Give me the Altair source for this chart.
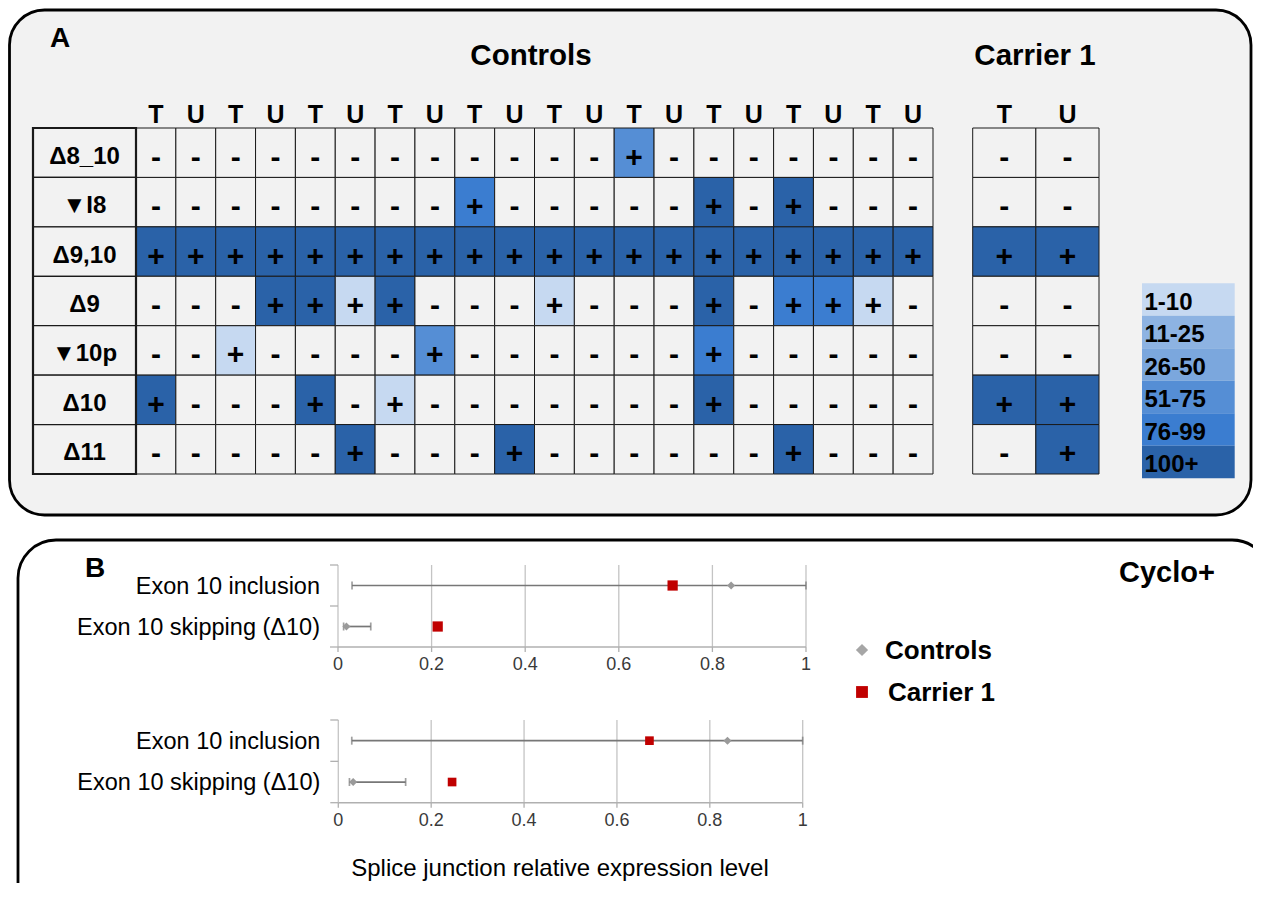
import altair as alt
import pandas as pd

# ---------------- Panel A data ----------------
row_labels = ["Δ8_10", "▼I8", "Δ9,10", "Δ9", "▼10p", "Δ10", "Δ11"]
control_headers = ["T", "U", "T", "U", "T", "U", "T", "U", "T", "U",
                   "T", "U", "T", "U", "T", "U", "T", "U", "T", "U"]
carrier_headers = ["T", "U"]
bin_labels = ["1-10", "11-25", "26-50", "51-75", "76-99", "100+"]
bin_colors = ["#c6d9f1", "#8db3e2", "#7ba7dd", "#558ed5", "#3b7dd0", "#2a62a8"]
empty_color = "#f2f2f2"

# expression level class per cell: 0 = not detected, 1..6 = bins above
control_levels = [
    [0, 0, 0, 0, 0, 0, 0, 0, 0, 0, 0, 0, 4, 0, 0, 0, 0, 0, 0, 0],
    [0, 0, 0, 0, 0, 0, 0, 0, 5, 0, 0, 0, 0, 0, 6, 0, 6, 0, 0, 0],
    [6, 6, 6, 6, 6, 6, 6, 6, 6, 6, 6, 6, 6, 6, 6, 6, 6, 6, 6, 6],
    [0, 0, 0, 6, 6, 1, 6, 0, 0, 0, 1, 0, 0, 0, 6, 0, 5, 5, 1, 0],
    [0, 0, 1, 0, 0, 0, 0, 4, 0, 0, 0, 0, 0, 0, 5, 0, 0, 0, 0, 0],
    [6, 0, 0, 0, 6, 0, 1, 0, 0, 0, 0, 0, 0, 0, 6, 0, 0, 0, 0, 0],
    [0, 0, 0, 0, 0, 6, 0, 0, 0, 6, 0, 0, 0, 0, 0, 0, 6, 0, 0, 0],
]
carrier_levels = [[0, 0], [0, 0], [6, 6], [0, 0], [0, 0], [6, 6], [0, 6]]

# ---------------- Panel B data ----------------
junctions = ["Exon 10 inclusion", "Exon 10 skipping (Δ10)"]
top_ctrl_point = [0.84, 0.018]
top_ctrl_min = [0.03, 0.012]
top_ctrl_max = [1.0, 0.07]
top_carrier = [0.715, 0.213]
bot_ctrl_point = [0.838, 0.032]
bot_ctrl_min = [0.029, 0.024]
bot_ctrl_max = [1.0, 0.145]
bot_carrier = [0.67, 0.245]
x_ticks = [0.0, 0.2, 0.4, 0.6, 0.8, 1.0]
x_tick_labels = ["0", "0.2", "0.4", "0.6", "0.8", "1"]
series_names = ["Controls", "Carrier 1"]

F = "Liberation Sans, Arial, Helvetica, sans-serif"
DUMMY = pd.DataFrame({"k": [0]})


def label(text, x, y, size, weight="bold", align="center", color="black"):
    return alt.Chart(DUMMY).mark_text(
        text=text, font=F, fontSize=size, fontWeight=weight, align=align,
        baseline="middle", color=color
    ).encode(x=alt.value(x), y=alt.value(y))


def frame(x1, x2, y1, y2, fill, radius):
    return alt.Chart(DUMMY).mark_rect(
        fill=fill, stroke="black", strokeWidth=2.8, cornerRadius=radius
    ).encode(x=alt.value(x1), x2=alt.value(x2), y=alt.value(y1), y2=alt.value(y2))


layers = []
layers.append(frame(1.5, 1243, 2, 507, "#f2f2f2", 35))
layers.append(frame(10, 1262, 532, 920, "white", 38))

# ---------------- heatmaps ----------------
def heat_df(levels, headers):
    recs = []
    for r, lab in enumerate(row_labels):
        for c, h in enumerate(headers):
            lv = levels[r][c]
            recs.append({"row": lab, "col": c, "hdr": h, "level": lv,
                         "sign": "+" if lv > 0 else "-"})
    return pd.DataFrame(recs)


ROWY = alt.Scale(domain=row_labels, range=[120, 466], paddingInner=0, paddingOuter=0)
color_scale = alt.Scale(domain=list(range(7)), range=[empty_color] + bin_colors)


def heatmap(levels, headers, xr):
    df = heat_df(levels, headers)
    xs = alt.Scale(domain=list(range(len(headers))), range=xr, paddingInner=0, paddingOuter=0)
    rect = alt.Chart(df).mark_rect(stroke="#1a1a1a", strokeWidth=1).encode(
        x=alt.X("col:O", scale=xs, axis=None),
        y=alt.Y("row:N", scale=ROWY, axis=None),
        color=alt.Color("level:O", scale=color_scale, legend=None),
    )
    txt = alt.Chart(df).mark_text(font=F, fontSize=30, fontWeight="bold",
                                  baseline="middle", dy=5, color="black").encode(
        x=alt.X("col:O", scale=xs, axis=None),
        y=alt.Y("row:N", scale=ROWY, axis=None),
        text="sign:N",
    )
    hdf = pd.DataFrame({"col": list(range(len(headers))), "hdr": headers})
    hdr = alt.Chart(hdf).mark_text(font=F, fontSize=25, fontWeight="bold",
                                   baseline="middle", color="black").encode(
        x=alt.X("col:O", scale=xs, axis=None),
        y=alt.value(106.5),
        text="hdr:N",
    )
    return [rect, txt, hdr]


layers += heatmap(control_levels, control_headers, [128, 925])
layers += heatmap(carrier_levels, carrier_headers, [964.7, 1091])

# row label box
rl = pd.DataFrame({"row": row_labels})
layers.append(alt.Chart(rl).mark_rect(fill=empty_color, stroke="#1a1a1a", strokeWidth=1.2).encode(
    x=alt.value(25), x2=alt.value(128),
    y=alt.Y("row:N", scale=ROWY, axis=None),
))
layers.append(alt.Chart(DUMMY).mark_rect(fill=None, stroke="#1a1a1a", strokeWidth=2.2).encode(
    x=alt.value(25), x2=alt.value(128), y=alt.value(120), y2=alt.value(466)))
layers.append(alt.Chart(rl).mark_text(font=F, fontSize=24, fontWeight="bold",
                                      baseline="middle", dy=4, color="black").encode(
    x=alt.value(76.5),
    y=alt.Y("row:N", scale=ROWY, axis=None),
    text="row:N",
))

# colour key
key = pd.DataFrame({"bin": bin_labels})
KEYY = alt.Scale(domain=bin_labels, range=[275.3, 470.3], paddingInner=0, paddingOuter=0)
layers.append(alt.Chart(key).mark_rect().encode(
    x=alt.value(1134), x2=alt.value(1226.7),
    y=alt.Y("bin:N", scale=KEYY, axis=None),
    color=alt.Color("bin:N", scale=alt.Scale(domain=bin_labels, range=bin_colors), legend=None),
))
layers.append(alt.Chart(key).mark_text(font=F, fontSize=24, fontWeight="bold", align="left",
                                       baseline="middle", dy=3, color="black").encode(
    x=alt.value(1136.5),
    y=alt.Y("bin:N", scale=KEYY, axis=None),
    text="bin:N",
))

layers.append(label("A", 52, 31, 28))
layers.append(label("Controls", 523, 48, 29.5))
layers.append(label("Carrier 1", 1027, 48, 29.5))

# ---------------- Panel B dot plots ----------------
def dotplot(pt, mn, mx, car, xr, yr, sq):
    df = pd.DataFrame({"junction": junctions, "pt": pt, "mn": mn, "mx": mx, "car": car})
    X = alt.Scale(domain=[0, 1], range=xr, zero=False, nice=False)
    Y = alt.Scale(domain=junctions, range=yr, paddingInner=0, paddingOuter=0)
    tdf = pd.DataFrame({"v": x_ticks, "lab": x_tick_labels})
    out = []
    out.append(alt.Chart(tdf).mark_rule(color="#c4c4c4", strokeWidth=1.3).encode(
        x=alt.X("v:Q", scale=X, axis=None), y=alt.value(yr[0]), y2=alt.value(yr[1])))
    out.append(alt.Chart(tdf).mark_rule(color="#b0b0b0", strokeWidth=1.3).encode(
        x=alt.X("v:Q", scale=X, axis=None), y=alt.value(yr[1]), y2=alt.value(yr[1] + 5)))
    adf = pd.DataFrame({"a": [x_ticks[0]], "b": [x_ticks[-1]]})
    out.append(alt.Chart(adf).mark_rule(color="#b0b0b0", strokeWidth=1.6).encode(
        x=alt.X("a:Q", scale=X, axis=None), x2="b:Q", y=alt.value(yr[1])))
    mid = (yr[0] + yr[1]) / 2
    for yy in (yr[0], mid, yr[1]):
        out.append(alt.Chart(DUMMY).mark_rule(color="#b0b0b0", strokeWidth=1.3).encode(
            x=alt.value(xr[0] - 8), x2=alt.value(xr[0]), y=alt.value(yy)))
    out.append(alt.Chart(tdf).mark_text(font=F, fontSize=18, color="#3a3a3a",
                                        baseline="middle").encode(
        x=alt.X("v:Q", scale=X, axis=None), y=alt.value(yr[1] + 18), text="lab:N"))
    out.append(alt.Chart(df).mark_text(font=F, fontSize=23.5, align="right",
                                       baseline="middle", dy=1, color="black").encode(
        x=alt.value(xr[0] - 18), y=alt.Y("junction:N", scale=Y, axis=None), text="junction:N"))
    out.append(alt.Chart(df).mark_rule(color="#777777", strokeWidth=1.7).encode(
        x=alt.X("mn:Q", scale=X, axis=None), x2="mx:Q",
        y=alt.Y("junction:N", scale=Y, axis=None)))
    for fld in ("mn", "mx"):
        out.append(alt.Chart(df).mark_tick(color="#777777", orient="vertical", size=8,
                                           thickness=1.7).encode(
            x=alt.X(f"{fld}:Q", scale=X, axis=None),
            y=alt.Y("junction:N", scale=Y, axis=None)))
    out.append(alt.Chart(df).mark_point(shape="diamond", filled=True, size=65,
                                        color="#9a9a9a", opacity=1).encode(
        x=alt.X("pt:Q", scale=X, axis=None), y=alt.Y("junction:N", scale=Y, axis=None)))
    out.append(alt.Chart(df).mark_square(size=sq, color="#c00000", opacity=1).encode(
        x=alt.X("car:Q", scale=X, axis=None), y=alt.Y("junction:N", scale=Y, axis=None)))
    return out


layers += dotplot(top_ctrl_point, top_ctrl_min, top_ctrl_max, top_carrier,
                  [330, 798], [557, 639], 105)
layers += dotplot(bot_ctrl_point, bot_ctrl_min, bot_ctrl_max, bot_carrier,
                  [330.3, 794.7], [712, 794.7], 75)

layers.append(label("B", 87, 561, 28))
layers.append(label("Cyclo+", 1159, 565, 29))
layers.append(label("Splice junction relative expression level", 552, 861, 24, weight="normal"))

# legend for panel B
layers.append(alt.Chart(DUMMY).mark_point(shape="diamond", filled=True, size=150,
                                          color="#a6a6a6", opacity=1).encode(
    x=alt.value(854), y=alt.value(642)))
layers.append(alt.Chart(DUMMY).mark_square(size=140, color="#c00000", opacity=1).encode(
    x=alt.value(854), y=alt.value(684)))
layers.append(label(series_names[0], 877, 643, 26, align="left"))
layers.append(label(series_names[1], 880, 685, 26, align="left"))

chart = alt.layer(*layers).properties(
    width=1245, height=875, padding=0,
    autosize=alt.AutoSizeParams(type="none"), background="white",
).resolve_scale(x="independent", y="independent", color="independent").configure_view(stroke=None)

chart.save("out.html", embed_options={"renderer": "svg", "actions": False})
